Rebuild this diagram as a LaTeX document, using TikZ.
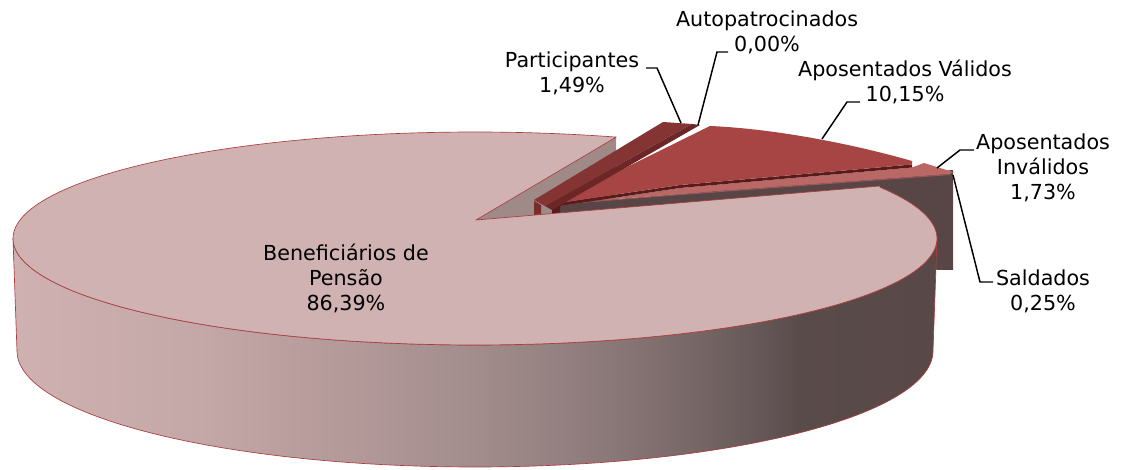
\documentclass[tikz,border=0pt]{standalone}
\usepackage{fontspec}
\setmainfont{DejaVu Sans}
\definecolor{toppink}{RGB}{208,178,178}
\definecolor{edgered}{RGB}{170,62,62}
\definecolor{greyface}{RGB}{160,138,136}
\definecolor{darkarea}{RGB}{88,70,70}
\definecolor{invtop}{RGB}{185,104,102}
\definecolor{invline}{RGB}{150,88,88}
\definecolor{valdark}{RGB}{88,28,28}
\definecolor{valtop}{RGB}{166,69,67}
\definecolor{partop}{RGB}{133,52,52}
\definecolor{parstrip}{RGB}{108,38,38}
\definecolor{parside}{RGB}{120,44,44}
\definecolor{w0}{RGB}{207,177,177}
\definecolor{w1}{RGB}{196,167,167}
\definecolor{w2}{RGB}{180,153,153}
\definecolor{w3}{RGB}{166,143,143}
\definecolor{w4}{RGB}{150,130,130}
\definecolor{w5}{RGB}{130,112,112}
\definecolor{w6}{RGB}{104,90,90}
\definecolor{w7}{RGB}{90,75,75}
\definecolor{w8}{RGB}{88,72,72}
\pgfdeclarehorizontalshading{wallshade}{100bp}{color(0bp)=(w0); color(25bp)=(w0); color(35.1bp)=(w1); color(43.2bp)=(w2); color(48.6bp)=(w3); color(54.1bp)=(w4); color(59.5bp)=(w5); color(64.9bp)=(w6); color(67.6bp)=(w7); color(75bp)=(w8); color(100bp)=(w8)}
\begin{document}
\begin{tikzpicture}[x=0.75pt,y=-0.75pt,
  lbl/.style={align=center, inner sep=0pt, font=\fontsize{15.5}{18.75}\selectfont},
  leader/.style={draw=black, line width=1.1pt},
  rim/.style={draw=edgered, line width=0.5pt, line join=round}]
\useasboundingbox (0,0) rectangle (1125,470);
% main slice radial face (grey)
\fill[greyface] (476,220) -- (616,137) -- (616,252) -- (476,335) -- cycle;
% dark faces of exploded slices
\fill[darkarea] (556,205) -- (953,170) -- (953,270) -- (937,270) -- (900,240) -- (556,232) -- cycle;
% Aposentados Invalidos top
\fill[invtop] (560,206) -- (680,188) -- (912,167.5) -- (924,163) -- (953,172) -- (950,174) -- (680,194) -- (565,203) -- cycle;
% Saldados (thin line)
\draw[invline, line width=0.8pt] (565,203.5) -- (680,194.5) -- (950,174.5);
% Aposentados Validos side + top
\fill[valdark] (552,204) -- (680,185) -- (912,164.5) -- (912,167.5) -- (680,188) -- (560,206) -- (560,213) -- (552,213) -- cycle;
\fill[valtop] (552,204) -- (710,126) .. controls (780,129) and (860,146) .. (912,161) -- (912,164.5) -- (680,185) -- cycle;
% Participantes
\fill[parside] (534,201) -- (541,205) -- (541,216) -- (534,216) -- cycle;
\fill[partop] (534,200) -- (663,122) -- (692,124) -- (545,206) -- cycle;
\fill[parstrip] (545,206) -- (692,124) -- (700,125) -- (552,210) -- cycle;
% main slice wall
\path[shading=wallshade, rim]
  plot[domain=0:180, samples=120, variable=\t] ({475+462*cos(\t)},{238.5+106.5*sin(\t)})
  -- plot[domain=180:0, samples=120, variable=\t] ({475+458*cos(\t)},{351+116*sin(\t)}) -- cycle;
% main slice top
\fill[toppink, rim] (476,220) -- (880,186)
  -- plot[domain=-28.8:287.8, samples=200, variable=\t] ({475+462*cos(\t)},{238.5+106.5*sin(\t)}) -- cycle;
% labels
\node[lbl] (lAuto) at (767,32) {Autopatrocinados\\0,00\%};
\node[lbl] (lPart) at (572,73) {Participantes\\1,49\%};
\node[lbl] (lVal) at (905,82) {Aposentados Válidos\\10,15\%};
\node[lbl] (lInv) at (1043,168) {Aposentados\\Inválidos\\1,73\%};
\node[lbl] (lSal) at (1043,291) {Saldados\\0,25\%};
\node[lbl] (lBen) at (346,278) {Beneficiários de\\Pensão\\86,39\%};
% leader lines
\coordinate (pA) at (646,68); \coordinate (pB) at (657,68); \coordinate (pC) at (681,123);
\coordinate (aA) at (728,52); \coordinate (aB) at (717,52); \coordinate (aC) at (698,125);
\coordinate (vA) at (860,102); \coordinate (vB) at (847,102); \coordinate (vC) at (822,139);
\coordinate (iA) at (974,150); \coordinate (iB) at (960,150); \coordinate (iC) at (937,168);
\coordinate (sA) at (993,282); \coordinate (sB) at (980,282); \coordinate (sC) at (953,175);
\draw[leader] (pA) -- (pB) -- (pC);
\draw[leader] (aA) -- (aB) -- (aC);
\draw[leader] (vA) -- (vB) -- (vC);
\draw[leader] (iA) -- (iB) -- (iC);
\draw[leader] (sA) -- (sB) -- (sC);
\end{tikzpicture}
\end{document}
